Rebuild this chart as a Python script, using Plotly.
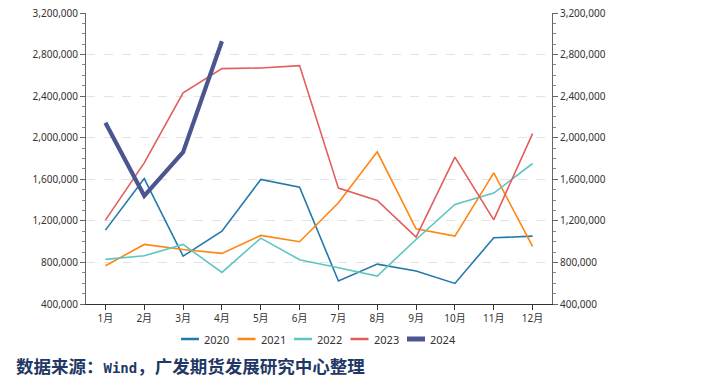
import plotly.graph_objects as go

months = ["1月", "2月", "3月", "4月", "5月", "6月", "7月", "8月", "9月", "10月", "11月", "12月"]
v2020 = [1111000, 1607000, 861000, 1101000, 1598000, 1524000, 621000, 784000, 717000, 598000, 1037000, 1053000]
v2021 = [768000, 973000, 925000, 887000, 1060000, 999000, 1374000, 1864000, 1124000, 1053000, 1662000, 954000]
v2022 = [829000, 864000, 973000, 704000, 1034000, 826000, 749000, 669000, 1021000, 1358000, 1467000, 1752000]
v2023 = [1207000, 1758000, 2431000, 2665000, 2671000, 2694000, 1515000, 1396000, 1044000, 1813000, 1210000, 2040000]
v2024 = [2143000, 1441000, 1861000, 2928000]

series = [
    ("2020", v2020, "#2379ab", 1.6),
    ("2021", v2021, "#ff8412", 1.6),
    ("2022", v2022, "#5ec5c2", 1.6),
    ("2023", v2023, "#e35d5f", 1.6),
    ("2024", v2024, "#4b5590", 4.2),
]

# plot area in pixels (for converting legend placement to paper coords)
L, R, T, B, W, H = 86, 165, 13, 79, 717, 383
PW, PH = W - L - R, H - T - B

def px(x):
    return (x - L) / PW

def py(y):
    return (H - B - y) / PH

fig = go.Figure()
for name, vals, color, w in series:
    fig.add_trace(go.Scatter(x=months[:len(vals)], y=vals, mode="lines", name=name,
                             line=dict(color=color, width=w), showlegend=False))
# invisible companion trace so the right axis is drawn
fig.add_trace(go.Scatter(x=months, y=v2020, yaxis="y2", mode="lines", showlegend=False,
                         hoverinfo="skip", line=dict(color="rgba(0,0,0,0)", width=0)))

# legend drawn as line samples + labels
shapes, annots = [], []
leg_x0, pitch, leg_y = 181, 56.5, 339
for i, (name, vals, color, w) in enumerate(series):
    x0 = leg_x0 + i * pitch
    shapes.append(dict(type="line", xref="paper", yref="paper", x0=px(x0), x1=px(x0 + 18),
                       y0=py(leg_y), y1=py(leg_y),
                       line=dict(color=color, width=5 if w > 3 else 2.5)))
    annots.append(dict(text=name, xref="paper", yref="paper", x=px(x0 + 21), y=py(leg_y),
                       xanchor="left", yanchor="middle", showarrow=False,
                       font=dict(family="Noto Sans, Open Sans", size=11, color="#333")))

annots.append(dict(text="<b>数据来源：<span style='font-family:DejaVu Sans Mono;font-size:14px'>Wind</span>，广发期货发展研究中心整理</b>",
                   xref="paper", yref="paper", x=px(14), y=py(365), xanchor="left", yanchor="middle",
                   showarrow=False, font=dict(family="Noto Sans CJK SC", size=17.5, color="#1f3864")))

yrange = [400000, 3200000]
tickfont = dict(family="Noto Sans, Open Sans, Noto Sans CJK SC", size=10, color="#333")
common_y = dict(range=yrange, dtick=400000, tickformat=",.0f", showline=True, linecolor="#666",
                linewidth=1, ticks="outside", ticklen=5, tickcolor="#666", tickfont=tickfont,
                minor=dict(ticks="outside", dtick=100000, ticklen=3, tickcolor="#888", showgrid=False),
                zeroline=False, automargin=False)

fig.update_layout(
    width=W, height=H,
    margin=dict(l=L, r=R, t=T, b=B, autoexpand=False),
    plot_bgcolor="white", paper_bgcolor="white",
    showlegend=False,
    xaxis=dict(type="category", range=[-0.5, 11.5], showline=True, linecolor="#333", linewidth=1,
               ticks="outside", ticklen=5, tickcolor="#333", tickfont=tickfont, showgrid=False,
               tickson="labels", automargin=False),
    yaxis=dict(**common_y, showgrid=True, gridcolor="#e3e3e3", griddash="dash", gridwidth=1),
    yaxis2=dict(**common_y, overlaying="y", side="right", showgrid=False),
    shapes=shapes,
    annotations=annots,
)

fig.write_html("out.html", config={"displayModeBar": False},
               post_script="document.body.style.margin='0';")
